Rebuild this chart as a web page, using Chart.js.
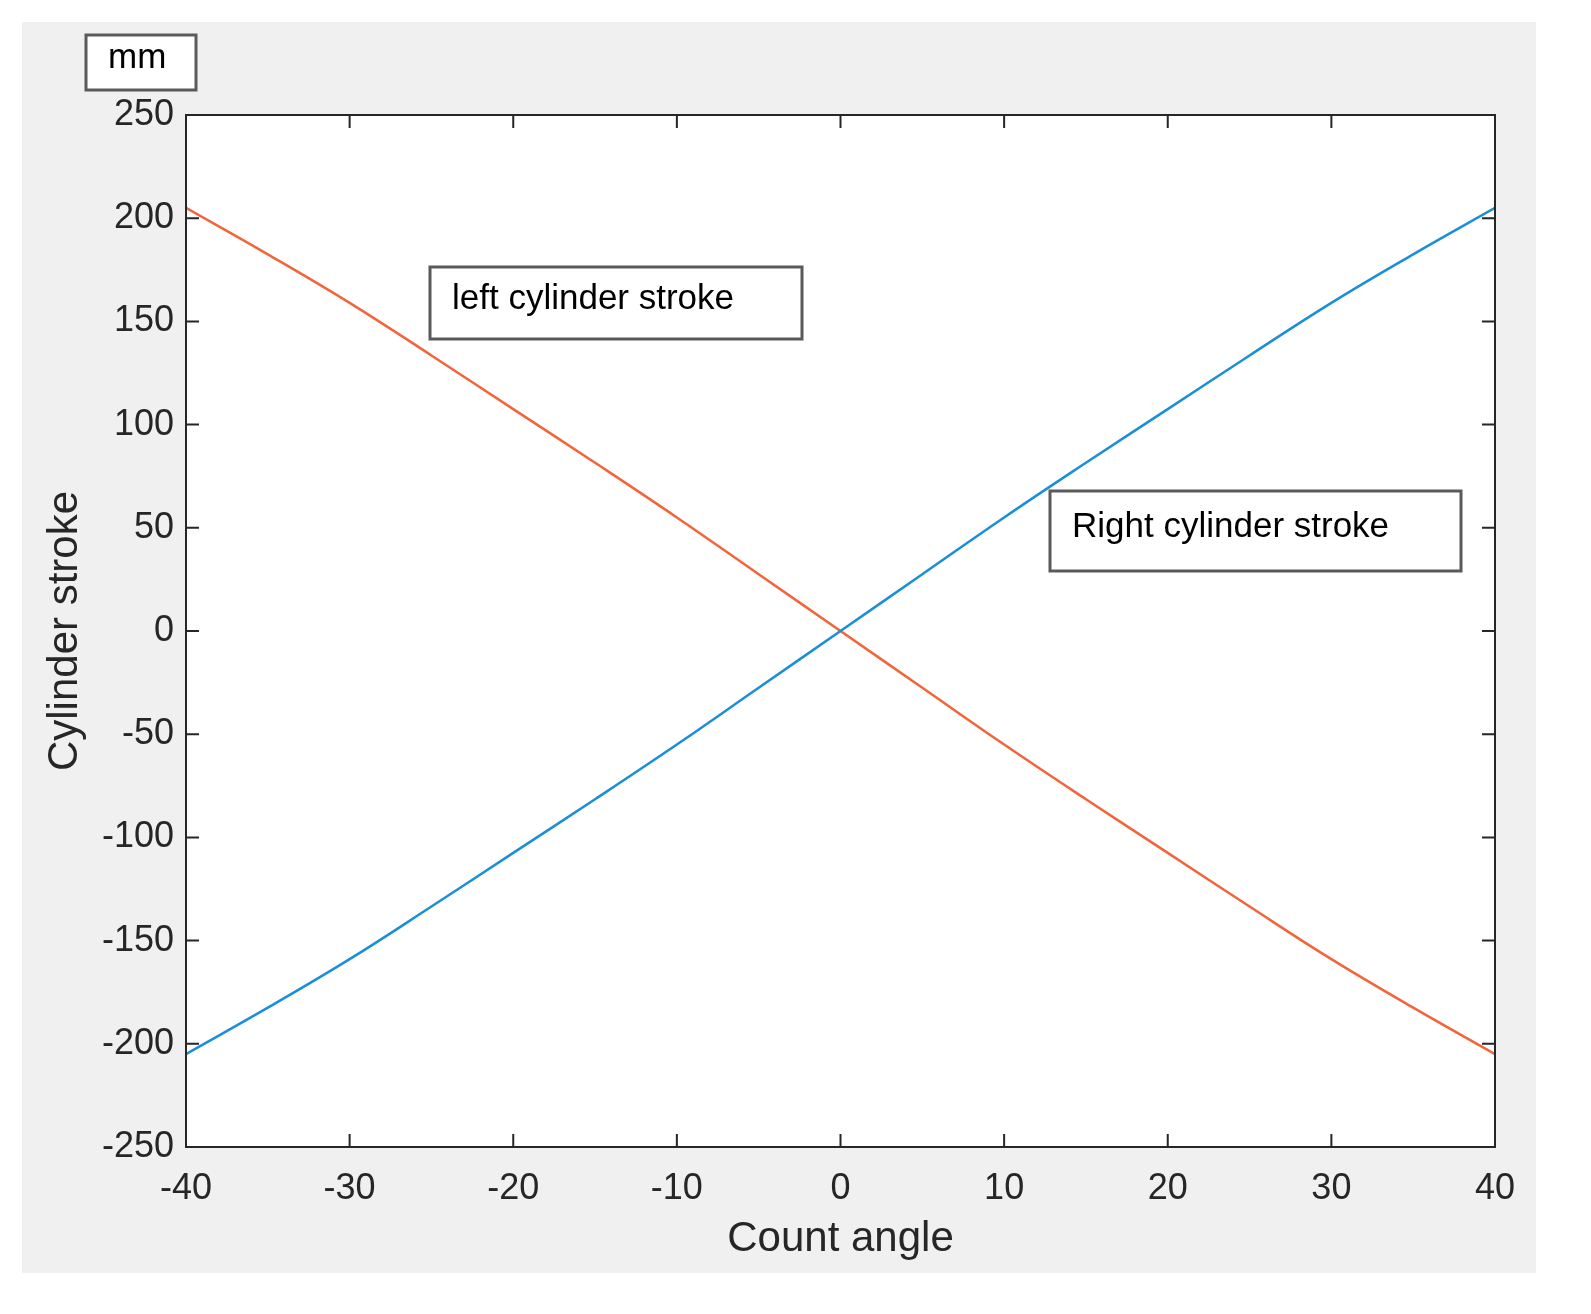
<!DOCTYPE html>
<html>
<head>
<meta charset="utf-8">
<script src="https://cdn.jsdelivr.net/npm/chart.js@4"></script>
<style>
  html, body { margin: 0; padding: 0; background: #fff; overflow: hidden; }
  #wrap { width: 1591px; height: 1314px; }
  canvas { display: block; }
</style>
</head>
<body>
<div id="wrap"><canvas id="myChart" width="1591" height="1314"></canvas></div>
<script>
// Datos
const angulos = [-40, -35, -30, -25, -20, -15, -10, -5, 0, 5, 10, 15, 20, 25, 30, 35, 40];
const carreraDerecha = [-205, -182.5, -159, -133.5, -107.5, -81.5, -55, -27.5, 0, 27.5, 55, 81.5, 107.5, 133.5, 159, 182.5, 205];
const carreraIzquierda = carreraDerecha.map(v => -v);
const xTicks = [-40, -30, -20, -10, 0, 10, 20, 30, 40];
const yTicks = [-250, -200, -150, -100, -50, 0, 50, 100, 150, 200, 250];

const FONT = "'Liberation Sans', Arial, sans-serif";
const TXT = '#262626';

// Fondo gris, marco, ticks interiores y cajas de texto
const estiloMatlab = {
    id: 'estiloMatlab',
    beforeDraw(chart) {
        const c = chart.ctx, a = chart.chartArea;
        c.save();
        c.fillStyle = '#fff';
        c.fillRect(0, 0, chart.width, chart.height);
        c.fillStyle = '#f0f0f0';
        c.fillRect(22, 22, 1514, 1251);
        c.fillStyle = '#fff';
        c.fillRect(a.left, a.top, a.right - a.left, a.bottom - a.top);
        c.restore();
    },
    afterDraw(chart) {
        const c = chart.ctx, a = chart.chartArea;
        const sx = chart.scales.x, sy = chart.scales.y;
        c.save();
        c.strokeStyle = '#262626';
        c.lineWidth = 2;
        c.strokeRect(a.left, a.top, a.right - a.left, a.bottom - a.top);
        const L = 13;
        c.beginPath();
        xTicks.forEach(t => {
            const p = sx.getPixelForValue(t);
            c.moveTo(p, a.bottom); c.lineTo(p, a.bottom - L);
            c.moveTo(p, a.top); c.lineTo(p, a.top + L);
        });
        yTicks.forEach(t => {
            const p = sy.getPixelForValue(t);
            c.moveTo(a.left, p); c.lineTo(a.left + L, p);
            c.moveTo(a.right, p); c.lineTo(a.right - L, p);
        });
        c.stroke();

        function caja(x, y, w, h, texto) {
            c.fillStyle = '#fff';
            c.fillRect(x, y, w, h);
            c.strokeStyle = '#5a5a5a';
            c.lineWidth = 3;
            c.strokeRect(x, y, w, h);
            c.fillStyle = '#000';
            c.font = '35px ' + FONT;
            c.textBaseline = 'middle';
            c.fillText(texto, x + 22, y + h / 2 - 4);
        }
        caja(86, 35, 110, 55, 'mm');
        caja(430, 267, 372, 72, 'left cylinder stroke');
        caja(1050, 491, 411, 80, 'Right cylinder stroke');
        c.restore();
    }
};

new Chart(document.getElementById('myChart').getContext('2d'), {
    type: 'line',
    data: {
        datasets: [{
            label: 'Right cylinder stroke',
            data: angulos.map((x, i) => ({ x: x, y: carreraDerecha[i] })),
            borderColor: '#1a8fd8',
            borderWidth: 2.5,
            pointRadius: 0,
            tension: 0.4
        }, {
            label: 'left cylinder stroke',
            data: angulos.map((x, i) => ({ x: x, y: carreraIzquierda[i] })),
            borderColor: '#f2653a',
            borderWidth: 2.5,
            pointRadius: 0,
            tension: 0.4
        }]
    },
    options: {
        responsive: false,
        animation: false,
        layout: { padding: { left: 36, top: 115, right: 96, bottom: 45 } },
        plugins: { legend: { display: false }, tooltip: { enabled: false } },
        scales: {
            x: {
                type: 'linear', min: -40, max: 40,
                afterBuildTicks: s => { s.ticks = xTicks.map(v => ({ value: v })); },
                afterFit: s => { s.height = 122; },
                grid: { display: false, drawTicks: false },
                border: { display: false },
                ticks: { color: TXT, font: { size: 36, family: FONT }, padding: 20, maxRotation: 0 },
                title: { display: true, text: 'Count angle', color: TXT, font: { size: 42, family: FONT }, padding: { top: 4 } }
            },
            y: {
                type: 'linear', min: -250, max: 250,
                afterBuildTicks: s => { s.ticks = yTicks.map(v => ({ value: v })); },
                afterFit: s => { s.width = 150; },
                grid: { display: false, drawTicks: false },
                border: { display: false },
                ticks: { color: TXT, font: { size: 36, family: FONT }, padding: 12 },
                title: { display: true, text: 'Cylinder stroke', color: TXT, font: { size: 42, family: FONT }, padding: { bottom: 4 } }
            }
        }
    },
    plugins: [estiloMatlab]
});
</script>
</body>
</html>
